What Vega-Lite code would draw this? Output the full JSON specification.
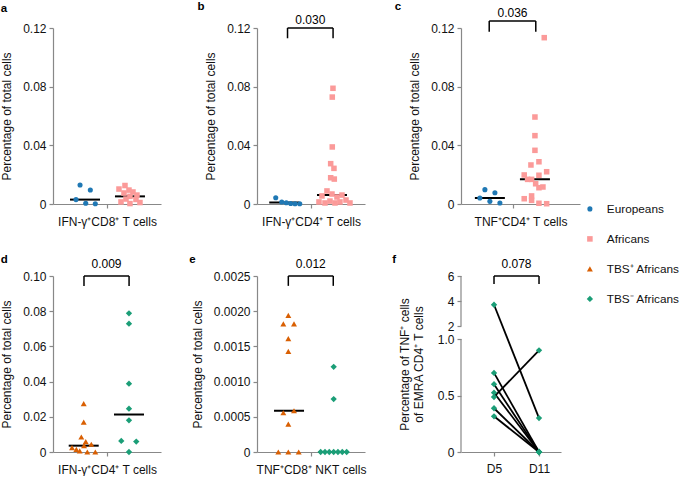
{
"$schema":"https://vega.github.io/schema/vega-lite/v6.json",
"background":"white",
"padding":{"left":0,"top":0,"right":0,"bottom":0},
"autosize":{"type":"pad"},
"bounds":"flush",
"align":"each",
"columns":3,
"spacing":{"row":72,"column":96},
"datasets":{
"pts":[
{"panel":"a","group":"Europeans","pos":0.926,"value":0.013},
{"panel":"a","group":"Europeans","pos":1.145,"value":0.0095},
{"panel":"a","group":"Europeans","pos":0.84,"value":0.003},
{"panel":"a","group":"Europeans","pos":1.047,"value":0.0005},
{"panel":"a","group":"Europeans","pos":1.251,"value":0.0002},
{"panel":"a","group":"Africans","pos":1.883,"value":0.0126},
{"panel":"a","group":"Africans","pos":1.755,"value":0.0102},
{"panel":"a","group":"Africans","pos":1.968,"value":0.0095},
{"panel":"a","group":"Africans","pos":2.053,"value":0.0082},
{"panel":"a","group":"Africans","pos":1.862,"value":0.0075},
{"panel":"a","group":"Africans","pos":2.138,"value":0.0061},
{"panel":"a","group":"Africans","pos":1.989,"value":0.0052},
{"panel":"a","group":"Africans","pos":1.904,"value":0.0034},
{"panel":"a","group":"Africans","pos":2.117,"value":0.0031},
{"panel":"a","group":"Africans","pos":1.798,"value":0.0014},
{"panel":"a","group":"Africans","pos":2.202,"value":0.001},
{"panel":"a","group":"Africans","pos":1.989,"value":0.0003},
{"panel":"b","group":"Europeans","pos":0.749,"value":0.0043},
{"panel":"b","group":"Europeans","pos":0.877,"value":0.0014},
{"panel":"b","group":"Europeans","pos":0.974,"value":0.0009},
{"panel":"b","group":"Europeans","pos":1.068,"value":0.0003},
{"panel":"b","group":"Europeans","pos":1.16,"value":0.0002},
{"panel":"b","group":"Europeans","pos":1.26,"value":0.0002},
{"panel":"b","group":"Africans","pos":1.968,"value":0.0789},
{"panel":"b","group":"Africans","pos":1.953,"value":0.0729},
{"panel":"b","group":"Africans","pos":1.953,"value":0.0389},
{"panel":"b","group":"Africans","pos":1.919,"value":0.0275},
{"panel":"b","group":"Africans","pos":1.989,"value":0.0243},
{"panel":"b","group":"Africans","pos":1.919,"value":0.0179},
{"panel":"b","group":"Africans","pos":1.996,"value":0.017},
{"panel":"b","group":"Africans","pos":1.84,"value":0.0089},
{"panel":"b","group":"Africans","pos":1.734,"value":0.0055},
{"panel":"b","group":"Africans","pos":1.947,"value":0.0068},
{"panel":"b","group":"Africans","pos":2.053,"value":0.0048},
{"panel":"b","group":"Africans","pos":2.16,"value":0.0061},
{"panel":"b","group":"Africans","pos":2.245,"value":0.0027},
{"panel":"b","group":"Africans","pos":1.67,"value":0.0014},
{"panel":"b","group":"Africans","pos":1.798,"value":0.0007},
{"panel":"b","group":"Africans","pos":1.904,"value":0.002},
{"panel":"b","group":"Africans","pos":2.011,"value":0.0007},
{"panel":"b","group":"Africans","pos":2.117,"value":0.0014},
{"panel":"b","group":"Africans","pos":2.33,"value":0.0007},
{"panel":"c","group":"Europeans","pos":0.898,"value":0.0098},
{"panel":"c","group":"Europeans","pos":1.111,"value":0.0077},
{"panel":"c","group":"Europeans","pos":0.791,"value":0.0041},
{"panel":"c","group":"Europeans","pos":1.004,"value":0.0018},
{"panel":"c","group":"Europeans","pos":1.217,"value":0.0007},
{"panel":"c","group":"Africans","pos":2.16,"value":0.1134},
{"panel":"c","group":"Africans","pos":1.962,"value":0.0593},
{"panel":"c","group":"Africans","pos":1.962,"value":0.0466},
{"panel":"c","group":"Africans","pos":1.962,"value":0.0366},
{"panel":"c","group":"Africans","pos":1.877,"value":0.0266},
{"panel":"c","group":"Africans","pos":2.047,"value":0.0288},
{"panel":"c","group":"Africans","pos":2.211,"value":0.022},
{"panel":"c","group":"Africans","pos":1.734,"value":0.0198},
{"panel":"c","group":"Africans","pos":2.047,"value":0.0196},
{"panel":"c","group":"Africans","pos":1.806,"value":0.0168},
{"panel":"c","group":"Africans","pos":1.891,"value":0.0168},
{"panel":"c","group":"Africans","pos":1.977,"value":0.0138},
{"panel":"c","group":"Africans","pos":2.047,"value":0.0111},
{"panel":"c","group":"Africans","pos":2.132,"value":0.0116},
{"panel":"c","group":"Africans","pos":1.734,"value":0.0036},
{"panel":"c","group":"Africans","pos":1.891,"value":0.0055},
{"panel":"c","group":"Africans","pos":1.891,"value":0.0025},
{"panel":"c","group":"Africans","pos":2.047,"value":0.0005},
{"panel":"c","group":"Africans","pos":2.211,"value":0.0002},
{"panel":"d","group":"TBS⁺ Africans","pos":1.004,"value":0.0275},
{"panel":"d","group":"TBS⁺ Africans","pos":1.004,"value":0.017},
{"panel":"d","group":"TBS⁺ Africans","pos":0.953,"value":0.0085},
{"panel":"d","group":"TBS⁺ Africans","pos":1.047,"value":0.0059},
{"panel":"d","group":"TBS⁺ Africans","pos":1.011,"value":0.0036},
{"panel":"d","group":"TBS⁺ Africans","pos":1.166,"value":0.0044},
{"panel":"d","group":"TBS⁺ Africans","pos":0.755,"value":0.0025},
{"panel":"d","group":"TBS⁺ Africans","pos":0.847,"value":0.0015},
{"panel":"d","group":"TBS⁺ Africans","pos":0.919,"value":0.0006},
{"panel":"d","group":"TBS⁺ Africans","pos":1.081,"value":0},
{"panel":"d","group":"TBS⁺ Africans","pos":1.251,"value":0},
{"panel":"d","group":"TBS⁻ Africans","pos":1.968,"value":0.0788},
{"panel":"d","group":"TBS⁻ Africans","pos":1.968,"value":0.0729},
{"panel":"d","group":"TBS⁻ Africans","pos":1.968,"value":0.0388},
{"panel":"d","group":"TBS⁻ Africans","pos":1.968,"value":0.0246},
{"panel":"d","group":"TBS⁻ Africans","pos":1.968,"value":0.018},
{"panel":"d","group":"TBS⁻ Africans","pos":1.804,"value":0.0063},
{"panel":"d","group":"TBS⁻ Africans","pos":2.123,"value":0.0059},
{"panel":"d","group":"TBS⁻ Africans","pos":1.968,"value":0},
{"panel":"e","group":"TBS⁺ Africans","pos":1.017,"value":0.00194},
{"panel":"e","group":"TBS⁺ Africans","pos":0.911,"value":0.00182},
{"panel":"e","group":"TBS⁺ Africans","pos":1.138,"value":0.00182},
{"panel":"e","group":"TBS⁺ Africans","pos":1.017,"value":0.00161},
{"panel":"e","group":"TBS⁺ Africans","pos":1.017,"value":0.00143},
{"panel":"e","group":"TBS⁺ Africans","pos":0.911,"value":0.000557},
{"panel":"e","group":"TBS⁺ Africans","pos":1.138,"value":0.000586},
{"panel":"e","group":"TBS⁺ Africans","pos":1.017,"value":0.000395},
{"panel":"e","group":"TBS⁺ Africans","pos":0.804,"value":0},
{"panel":"e","group":"TBS⁺ Africans","pos":1.017,"value":0},
{"panel":"e","group":"TBS⁺ Africans","pos":1.238,"value":0},
{"panel":"e","group":"TBS⁻ Africans","pos":1.983,"value":0.00121},
{"panel":"e","group":"TBS⁻ Africans","pos":1.983,"value":0.000752},
{"panel":"e","group":"TBS⁻ Africans","pos":1.706,"value":0},
{"panel":"e","group":"TBS⁻ Africans","pos":1.798,"value":0},
{"panel":"e","group":"TBS⁻ Africans","pos":1.889,"value":0},
{"panel":"e","group":"TBS⁻ Africans","pos":1.983,"value":0},
{"panel":"e","group":"TBS⁻ Africans","pos":2.074,"value":0},
{"panel":"e","group":"TBS⁻ Africans","pos":2.166,"value":0},
{"panel":"e","group":"TBS⁻ Africans","pos":2.26,"value":0}
],
"med":[
{"panel":"a","group":"Europeans","pos":1.032,"value":0.003},
{"panel":"a","group":"Africans","pos":1.989,"value":0.0052},
{"panel":"b","group":"Europeans","pos":0.93,"value":0.0011},
{"panel":"b","group":"Africans","pos":1.947,"value":0.0062},
{"panel":"c","group":"Europeans","pos":1.004,"value":0.0041},
{"panel":"c","group":"Africans","pos":1.962,"value":0.0168},
{"panel":"d","group":"TBS⁺ Africans","pos":1.004,"value":0.0036},
{"panel":"d","group":"TBS⁻ Africans","pos":1.968,"value":0.0213},
{"panel":"e","group":"TBS⁺ Africans","pos":1.032,"value":0.000586},
{"panel":"e","group":"TBS⁻ Africans","pos":1.983,"value":0}
],
"brk":[
{"panel":"b","x1":1.0,"x2":1.97,"xm":1.485,"yt":0.12,"yb":0.113,"p":"0.030"},
{"panel":"c","x1":0.99,"x2":1.98,"xm":1.485,"yt":0.1247,"yb":0.1174,"p":"0.036"},
{"panel":"d","x1":1.01,"x2":1.97,"xm":1.49,"yt":0.1,"yb":0.0943,"p":"0.009"},
{"panel":"e","x1":1.017,"x2":1.974,"xm":1.495,"yt":0.0025,"yb":0.00236,"p":"0.012"},
{"panel":"f","x1":5,"x2":11,"xm":8,"yt":6,"yb":5.36,"p":"0.078"}
],
"pair":[
{"subject":"s1","day":5,"value":3.7,"group":"TBS⁻ Africans"},
{"subject":"s1","day":11,"value":0.3,"group":"TBS⁻ Africans"},
{"subject":"s2","day":5,"value":0.487,"group":"TBS⁻ Africans"},
{"subject":"s2","day":11,"value":0.9,"group":"TBS⁻ Africans"},
{"subject":"s3","day":5,"value":0.7,"group":"TBS⁻ Africans"},
{"subject":"s3","day":11,"value":0,"group":"TBS⁻ Africans"},
{"subject":"s4","day":5,"value":0.6,"group":"TBS⁻ Africans"},
{"subject":"s4","day":11,"value":0,"group":"TBS⁻ Africans"},
{"subject":"s5","day":5,"value":0.525,"group":"TBS⁻ Africans"},
{"subject":"s5","day":11,"value":0,"group":"TBS⁻ Africans"},
{"subject":"s6","day":5,"value":0.387,"group":"TBS⁻ Africans"},
{"subject":"s6","day":11,"value":0,"group":"TBS⁻ Africans"},
{"subject":"s7","day":5,"value":0.316,"group":"TBS⁻ Africans"},
{"subject":"s7","day":11,"value":0,"group":"TBS⁻ Africans"}
],
"ax":[{"seg":"low","y0":0,"y1":1},{"seg":"high","y0":2,"y1":6}]
},
"concat":[
{"width":108,"height":176,"title":{"text":"a","frame":"bounds","offset":8},
"layer":[
{"data":{"name":"med"},"transform":[{"filter":"datum.panel=='a'"}],"mark":{"type":"tick","orient":"horizontal","size":30,"thickness":2,"color":"#000","opacity":1},
"encoding":{"x":{"field":"pos","type":"quantitative","scale":{"domain":[0.35,2.65],"nice":false,"zero":false},"axis":{"values":[1.5],"labels":false,"title":"IFN-γ⁺CD8⁺ T cells"}},
"y":{"field":"value","type":"quantitative","scale":{"domain":[0,0.12],"nice":false},"axis":{"values":[0,0.04,0.08,0.12],"tickCount":20,"labelExpr":"datum.value==0?'0':format(datum.value,'.2f')","title":"Percentage of total cells"}}}},
{"data":{"name":"pts"},"transform":[{"filter":"datum.panel=='a'"}],"mark":{"type":"point","filled":true,"opacity":1},
"encoding":{"x":{"field":"pos","type":"quantitative"},"y":{"field":"value","type":"quantitative"},
"color":{"field":"group","type":"nominal","scale":{"domain":["Europeans","Africans","TBS⁺ Africans","TBS⁻ Africans"],"range":["#1f78b4","#fb9a99","#d95f02","#1b9e77"]},"legend":{"title":null,"orient":"none","legendX":531,"legendY":175}},
"shape":{"field":"group","type":"nominal","scale":{"domain":["Europeans","Africans","TBS⁺ Africans","TBS⁻ Africans"],"range":["circle","square","triangle-up","diamond"]},"legend":{"title":null,"orient":"none","legendX":531,"legendY":175}},
"size":{"field":"group","type":"nominal","scale":{"domain":["Europeans","Africans","TBS⁺ Africans","TBS⁻ Africans"],"range":[26,40,40,60]},"legend":{"title":null,"orient":"none","legendX":531,"legendY":175}}}}
]},
{"width":108,"height":176,"title":{"text":"b\u00a0\u00a0\u00a0\u00a0","frame":"bounds","align":"right","offset":2},
"layer":[
{"data":{"name":"med"},"transform":[{"filter":"datum.panel=='b'"}],"mark":{"type":"tick","orient":"horizontal","size":30,"thickness":2,"color":"#000","opacity":1},
"encoding":{"x":{"field":"pos","type":"quantitative","scale":{"domain":[0.35,2.65],"nice":false,"zero":false},"axis":{"values":[1.5],"labels":false,"title":"IFN-γ⁺CD4⁺ T cells"}},
"y":{"field":"value","type":"quantitative","scale":{"domain":[0,0.12],"nice":false},"axis":{"values":[0,0.04,0.08,0.12],"tickCount":20,"labelExpr":"datum.value==0?'0':format(datum.value,'.2f')","title":"Percentage of total cells"}}}},
{"data":{"name":"pts"},"transform":[{"filter":"datum.panel=='b'"}],"mark":{"type":"point","filled":true,"opacity":1},
"encoding":{"x":{"field":"pos","type":"quantitative"},"y":{"field":"value","type":"quantitative"},
"color":{"field":"group","type":"nominal","legend":{"title":null,"orient":"none","legendX":531,"legendY":175}},
"shape":{"field":"group","type":"nominal","legend":{"title":null,"orient":"none","legendX":531,"legendY":175}},
"size":{"field":"group","type":"nominal","legend":{"title":null,"orient":"none","legendX":531,"legendY":175}}}},
{"data":{"name":"brk"},"transform":[{"filter":"datum.panel=='b'"}],"mark":{"type":"rule","color":"#000","strokeWidth":1.5},"encoding":{"x":{"field":"x1","type":"quantitative"},"x2":{"field":"x2"},"y":{"field":"yt","type":"quantitative"}}},
{"data":{"name":"brk"},"transform":[{"filter":"datum.panel=='b'"}],"mark":{"type":"rule","color":"#000","strokeWidth":1.5},"encoding":{"x":{"field":"x1","type":"quantitative"},"y":{"field":"yt","type":"quantitative"},"y2":{"field":"yb"}}},
{"data":{"name":"brk"},"transform":[{"filter":"datum.panel=='b'"}],"mark":{"type":"rule","color":"#000","strokeWidth":1.5},"encoding":{"x":{"field":"x2","type":"quantitative"},"y":{"field":"yt","type":"quantitative"},"y2":{"field":"yb"}}},
{"data":{"name":"brk"},"transform":[{"filter":"datum.panel=='b'"}],"mark":{"type":"text","dy":-4,"baseline":"alphabetic","fontSize":12,"color":"#000"},"encoding":{"x":{"field":"xm","type":"quantitative"},"y":{"field":"yt","type":"quantitative"},"text":{"field":"p"}}}
]},
{"width":119,"height":176,"title":{"text":"c","frame":"bounds","dx":-14,"offset":-5},
"layer":[
{"data":{"name":"med"},"transform":[{"filter":"datum.panel=='c'"}],"mark":{"type":"tick","orient":"horizontal","size":30,"thickness":2,"color":"#000","opacity":1},
"encoding":{"x":{"field":"pos","type":"quantitative","scale":{"domain":[0.39,2.92],"nice":false,"zero":false},"axis":{"values":[1.5],"labels":false,"title":"TNF⁺CD4⁺ T cells"}},
"y":{"field":"value","type":"quantitative","scale":{"domain":[0,0.12],"nice":false},"axis":{"values":[0,0.04,0.08,0.12],"tickCount":20,"labelExpr":"datum.value==0?'0':format(datum.value,'.2f')","title":"Percentage of total cells"}}}},
{"data":{"name":"pts"},"transform":[{"filter":"datum.panel=='c'"}],"mark":{"type":"point","filled":true,"opacity":1,"clip":false},
"encoding":{"x":{"field":"pos","type":"quantitative"},"y":{"field":"value","type":"quantitative"},
"color":{"field":"group","type":"nominal","legend":{"title":null,"orient":"none","legendX":531,"legendY":175}},
"shape":{"field":"group","type":"nominal","legend":{"title":null,"orient":"none","legendX":531,"legendY":175}},
"size":{"field":"group","type":"nominal","legend":{"title":null,"orient":"none","legendX":531,"legendY":175}}}},
{"data":{"name":"brk"},"transform":[{"filter":"datum.panel=='c'"}],"mark":{"type":"rule","color":"#000","strokeWidth":1.5},"encoding":{"x":{"field":"x1","type":"quantitative"},"x2":{"field":"x2"},"y":{"field":"yt","type":"quantitative"}}},
{"data":{"name":"brk"},"transform":[{"filter":"datum.panel=='c'"}],"mark":{"type":"rule","color":"#000","strokeWidth":1.5},"encoding":{"x":{"field":"x1","type":"quantitative"},"y":{"field":"yt","type":"quantitative"},"y2":{"field":"yb"}}},
{"data":{"name":"brk"},"transform":[{"filter":"datum.panel=='c'"}],"mark":{"type":"rule","color":"#000","strokeWidth":1.5},"encoding":{"x":{"field":"x2","type":"quantitative"},"y":{"field":"yt","type":"quantitative"},"y2":{"field":"yb"}}},
{"data":{"name":"brk"},"transform":[{"filter":"datum.panel=='c'"}],"mark":{"type":"text","dy":-4,"baseline":"alphabetic","fontSize":12,"color":"#000"},"encoding":{"x":{"field":"xm","type":"quantitative"},"y":{"field":"yt","type":"quantitative"},"text":{"field":"p"}}}
]},
{"width":108,"height":176,"title":{"text":"d","frame":"bounds","offset":-7},
"layer":[
{"data":{"name":"med"},"transform":[{"filter":"datum.panel=='d'"}],"mark":{"type":"tick","orient":"horizontal","size":30,"thickness":2,"color":"#000","opacity":1},
"encoding":{"x":{"field":"pos","type":"quantitative","scale":{"domain":[0.35,2.65],"nice":false,"zero":false},"axis":{"values":[1.5],"labels":false,"title":"IFN-γ⁺CD4⁺ T cells"}},
"y":{"field":"value","type":"quantitative","scale":{"domain":[0,0.1],"nice":false},"axis":{"values":[0,0.02,0.04,0.06,0.08,0.1],"tickCount":20,"labelExpr":"datum.value==0?'0':format(datum.value,'.2f')","title":"Percentage of total cells"}}}},
{"data":{"name":"pts"},"transform":[{"filter":"datum.panel=='d'"}],"mark":{"type":"point","filled":true,"opacity":1},
"encoding":{"x":{"field":"pos","type":"quantitative"},"y":{"field":"value","type":"quantitative"},
"color":{"field":"group","type":"nominal","legend":{"title":null,"orient":"none","legendX":531,"legendY":175}},
"shape":{"field":"group","type":"nominal","legend":{"title":null,"orient":"none","legendX":531,"legendY":175}},
"size":{"field":"group","type":"nominal","legend":{"title":null,"orient":"none","legendX":531,"legendY":175}}}},
{"data":{"name":"brk"},"transform":[{"filter":"datum.panel=='d'"}],"mark":{"type":"rule","color":"#000","strokeWidth":1.5},"encoding":{"x":{"field":"x1","type":"quantitative"},"x2":{"field":"x2"},"y":{"field":"yt","type":"quantitative"}}},
{"data":{"name":"brk"},"transform":[{"filter":"datum.panel=='d'"}],"mark":{"type":"rule","color":"#000","strokeWidth":1.5},"encoding":{"x":{"field":"x1","type":"quantitative"},"y":{"field":"yt","type":"quantitative"},"y2":{"field":"yb"}}},
{"data":{"name":"brk"},"transform":[{"filter":"datum.panel=='d'"}],"mark":{"type":"rule","color":"#000","strokeWidth":1.5},"encoding":{"x":{"field":"x2","type":"quantitative"},"y":{"field":"yt","type":"quantitative"},"y2":{"field":"yb"}}},
{"data":{"name":"brk"},"transform":[{"filter":"datum.panel=='d'"}],"mark":{"type":"text","dy":-8,"baseline":"alphabetic","fontSize":12,"color":"#000"},"encoding":{"x":{"field":"xm","type":"quantitative"},"y":{"field":"yt","type":"quantitative"},"text":{"field":"p"}}}
]},
{"width":108,"height":176,"title":{"text":"e","frame":"bounds","dx":-2,"offset":-7},
"layer":[
{"data":{"name":"med"},"transform":[{"filter":"datum.panel=='e'"}],"mark":{"type":"tick","orient":"horizontal","size":30,"thickness":2,"color":"#000","opacity":1},
"encoding":{"x":{"field":"pos","type":"quantitative","scale":{"domain":[0.35,2.65],"nice":false,"zero":false},"axis":{"values":[1.5],"labels":false,"title":"TNF⁺CD8⁺ NKT cells"}},
"y":{"field":"value","type":"quantitative","scale":{"domain":[0,0.0025],"nice":false},"axis":{"values":[0,0.0005,0.001,0.0015,0.002,0.0025],"tickCount":20,"labelExpr":"datum.value==0?'0':format(datum.value,'.4f')","title":"Percentage of total cells"}}}},
{"data":{"name":"pts"},"transform":[{"filter":"datum.panel=='e'"}],"mark":{"type":"point","filled":true,"opacity":1},
"encoding":{"x":{"field":"pos","type":"quantitative"},"y":{"field":"value","type":"quantitative"},
"color":{"field":"group","type":"nominal","legend":{"title":null,"orient":"none","legendX":531,"legendY":175}},
"shape":{"field":"group","type":"nominal","legend":{"title":null,"orient":"none","legendX":531,"legendY":175}},
"size":{"field":"group","type":"nominal","legend":{"title":null,"orient":"none","legendX":531,"legendY":175}}}},
{"data":{"name":"brk"},"transform":[{"filter":"datum.panel=='e'"}],"mark":{"type":"rule","color":"#000","strokeWidth":1.5},"encoding":{"x":{"field":"x1","type":"quantitative"},"x2":{"field":"x2"},"y":{"field":"yt","type":"quantitative"}}},
{"data":{"name":"brk"},"transform":[{"filter":"datum.panel=='e'"}],"mark":{"type":"rule","color":"#000","strokeWidth":1.5},"encoding":{"x":{"field":"x1","type":"quantitative"},"y":{"field":"yt","type":"quantitative"},"y2":{"field":"yb"}}},
{"data":{"name":"brk"},"transform":[{"filter":"datum.panel=='e'"}],"mark":{"type":"rule","color":"#000","strokeWidth":1.5},"encoding":{"x":{"field":"x2","type":"quantitative"},"y":{"field":"yt","type":"quantitative"},"y2":{"field":"yb"}}},
{"data":{"name":"brk"},"transform":[{"filter":"datum.panel=='e'"}],"mark":{"type":"text","dy":-8,"baseline":"alphabetic","fontSize":12,"color":"#000"},"encoding":{"x":{"field":"xm","type":"quantitative"},"y":{"field":"yt","type":"quantitative"},"text":{"field":"p"}}}
]},
{"width":100,"height":176,"title":{"text":"f","frame":"bounds","dx":-6,"offset":-7},
"layer":[
{"data":{"name":"pair"},"mark":{"type":"line","color":"#000","strokeWidth":1.8},
"encoding":{"x":{"field":"day","type":"quantitative","scale":{"domain":[0.6,13.93],"nice":false,"zero":false},"axis":{"values":[5,11],"labelExpr":"'D'+datum.value","labelPadding":7,"title":null}},
"y":{"field":"value","type":"quantitative","scale":{"domain":[0,1,2,6],"range":[176,63,50,0],"nice":false,"zero":false},"axis":{"values":[0,0.5,1,2,4,6],"tickCount":20,"labelExpr":"datum.value==1?'1.0':''+datum.value","domain":false,"title":["Percentage of TNF⁺ cells","of EMRA CD4⁺ T cells"],"titlePadding":12}},
"detail":{"field":"subject"}}},
{"data":{"name":"ax"},"mark":{"type":"rule","color":"#888","strokeWidth":1.2},"encoding":{"x":{"datum":0.6,"type":"quantitative"},"y":{"field":"y0","type":"quantitative"},"y2":{"field":"y1"}}},
{"data":{"name":"pair"},"mark":{"type":"point","filled":true,"opacity":1},
"encoding":{"x":{"field":"day","type":"quantitative"},"y":{"field":"value","type":"quantitative"},
"color":{"field":"group","type":"nominal","legend":{"title":null,"orient":"none","legendX":531,"legendY":175}},
"shape":{"field":"group","type":"nominal","legend":{"title":null,"orient":"none","legendX":531,"legendY":175}},
"size":{"field":"group","type":"nominal","legend":{"title":null,"orient":"none","legendX":531,"legendY":175}}}},
{"data":{"name":"brk"},"transform":[{"filter":"datum.panel=='f'"}],"mark":{"type":"rule","color":"#000","strokeWidth":1.5},"encoding":{"x":{"field":"x1","type":"quantitative"},"x2":{"field":"x2"},"y":{"field":"yt","type":"quantitative"}}},
{"data":{"name":"brk"},"transform":[{"filter":"datum.panel=='f'"}],"mark":{"type":"rule","color":"#000","strokeWidth":1.5},"encoding":{"x":{"field":"x1","type":"quantitative"},"y":{"field":"yt","type":"quantitative"},"y2":{"field":"yb"}}},
{"data":{"name":"brk"},"transform":[{"filter":"datum.panel=='f'"}],"mark":{"type":"rule","color":"#000","strokeWidth":1.5},"encoding":{"x":{"field":"x2","type":"quantitative"},"y":{"field":"yt","type":"quantitative"},"y2":{"field":"yb"}}},
{"data":{"name":"brk"},"transform":[{"filter":"datum.panel=='f'"}],"mark":{"type":"text","dy":-8,"baseline":"alphabetic","fontSize":12,"color":"#000"},"encoding":{"x":{"field":"xm","type":"quantitative"},"y":{"field":"yt","type":"quantitative"},"text":{"field":"p"}}}
]}
],
"config":{
"font":"Liberation Sans",
"view":{"stroke":null},
"axis":{"grid":false,"domainColor":"#888","tickColor":"#888","domainWidth":1.2,"tickWidth":1.2,"labelColor":"#111","titleColor":"#111","labelFontSize":12,"titleFontSize":12,"titleFontWeight":"normal","tickSize":4,"labelPadding":3,"labelOverlap":false,"labelBound":false},
"axisY":{"titlePadding":9},
"axisX":{"titlePadding":8},
"title":{"fontSize":11.5,"fontWeight":"bold","anchor":"start","color":"#000","baseline":"alphabetic"},
"legend":{"labelFontSize":11.8,"labelColor":"#111","rowPadding":17,"labelOffset":11,"symbolStrokeWidth":0}
}
}
